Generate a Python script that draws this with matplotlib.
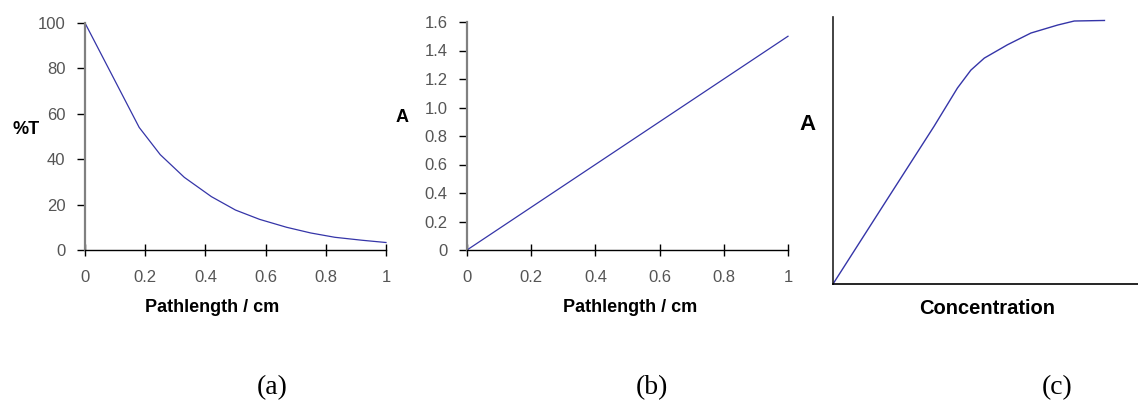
import matplotlib
matplotlib.use("Agg")
from matplotlib import pyplot as plt

# (a) %T against pathlength
path_a = [0, 0.18, 0.25, 0.33, 0.42, 0.5, 0.58, 0.67, 0.75, 0.83, 0.92, 1.0]
trans_a = [100, 54, 42, 32, 23.5, 17.6, 13.5, 10, 7.5, 5.6, 4.3, 3.3]
yticks_a = [0, 20, 40, 60, 80, 100]

# (b) A against pathlength
path_b = [0, 1.0]
absb_b = [0, 1.5]
yticks_b = [0, 0.2, 0.4, 0.6, 0.8, 1.0, 1.2, 1.4, 1.6]
yticklabels_b = ["0", "0.2", "0.4", "0.6", "0.8", "1.0", "1.2", "1.4", "1.6"]

xticks = [0, 0.2, 0.4, 0.6, 0.8, 1]
xticklabels = ["0", "0.2", "0.4", "0.6", "0.8", "1"]

# (c) A against concentration (no scale)
conc_c = [0, 0.177, 0.331, 0.408, 0.452, 0.496, 0.572, 0.649, 0.737, 0.791, 0.890]
abs_c = [0, 0.316, 0.590, 0.734, 0.801, 0.846, 0.896, 0.940, 0.970, 0.985, 0.987]

W, H = 1138, 403
line_col = "#3535a8"
tick_col = "#555555"
plt.rcParams['font.family'] = ['Liberation Sans', 'DejaVu Sans']

fig = plt.figure(figsize=(W / 100, H / 100), dpi=100)


def box(left, right, bottom, top):
    # pixel box -> figure fraction
    return [left / W, 1 - bottom / H, (right - left) / W, (bottom - top) / H]


def style(ax):
    for s in ("top", "right"):
        ax.spines[s].set_visible(False)
    ax.spines["left"].set_color("#808080")
    ax.spines["left"].set_linewidth(1.6)
    ax.spines["bottom"].set_color("black")
    ax.spines["bottom"].set_linewidth(1.0)
    ax.tick_params(axis="y", direction="out", length=6, width=1, color="black",
                   labelsize=12, labelcolor=tick_col, pad=8)
    ax.tick_params(axis="x", direction="inout", length=9, width=1, color="black",
                   labelsize=12, labelcolor=tick_col, pad=10)


ax1 = fig.add_axes(box(85, 386, 250, 23))
ax1.plot(path_a, trans_a, color=line_col, lw=0.9, clip_on=False)
ax1.set_xlim(0, 1)
ax1.set_ylim(0, 100)
ax1.set_yticks(yticks_a)
ax1.set_xticks(xticks)
ax1.set_xticklabels(xticklabels)
style(ax1)

ax2 = fig.add_axes(box(467, 788, 250, 22))
ax2.plot(path_b, absb_b, color=line_col, lw=0.9, clip_on=False)
ax2.set_xlim(0, 1)
ax2.set_ylim(0, 1.6)
ax2.set_yticks(yticks_b)
ax2.set_yticklabels(yticklabels_b)
ax2.set_xticks(xticks)
ax2.set_xticklabels(xticklabels)
style(ax2)

ax3 = fig.add_axes(box(833, 1138, 284, 17))
ax3.plot(conc_c, abs_c, color=line_col, lw=1.0, clip_on=False)
ax3.set_xlim(0, 1)
ax3.set_ylim(0, 1)
ax3.set_xticks([])
ax3.set_yticks([])
for s in ("top", "right"):
    ax3.spines[s].set_visible(False)
ax3.spines["left"].set_color("#222222")
ax3.spines["left"].set_linewidth(1.2)
ax3.spines["bottom"].set_color("black")
ax3.spines["bottom"].set_linewidth(1.2)


def ptext(x, y, s, **kw):
    fig.text(x / W, 1 - y / H, s, ha="center", va="center", **kw)


ptext(26, 130, "%T", fontsize=13, fontweight="bold")
ptext(212, 308, "Pathlength / cm", fontsize=13, fontweight="bold")
ptext(402, 117, "A", fontsize=13, fontweight="bold")
ptext(630, 308, "Pathlength / cm", fontsize=13, fontweight="bold")
ptext(808, 125, "A", fontsize=16, fontweight="bold")
ptext(987, 309, "Concentration", fontsize=14.5, fontweight="bold")

serif = ['Liberation Serif', 'DejaVu Serif']
ptext(272, 388, "(a)", fontsize=20, family=serif)
ptext(652, 388, "(b)", fontsize=20, family=serif)
ptext(1057, 388, "(c)", fontsize=20, family=serif)

fig.savefig("out.png", dpi=100)
